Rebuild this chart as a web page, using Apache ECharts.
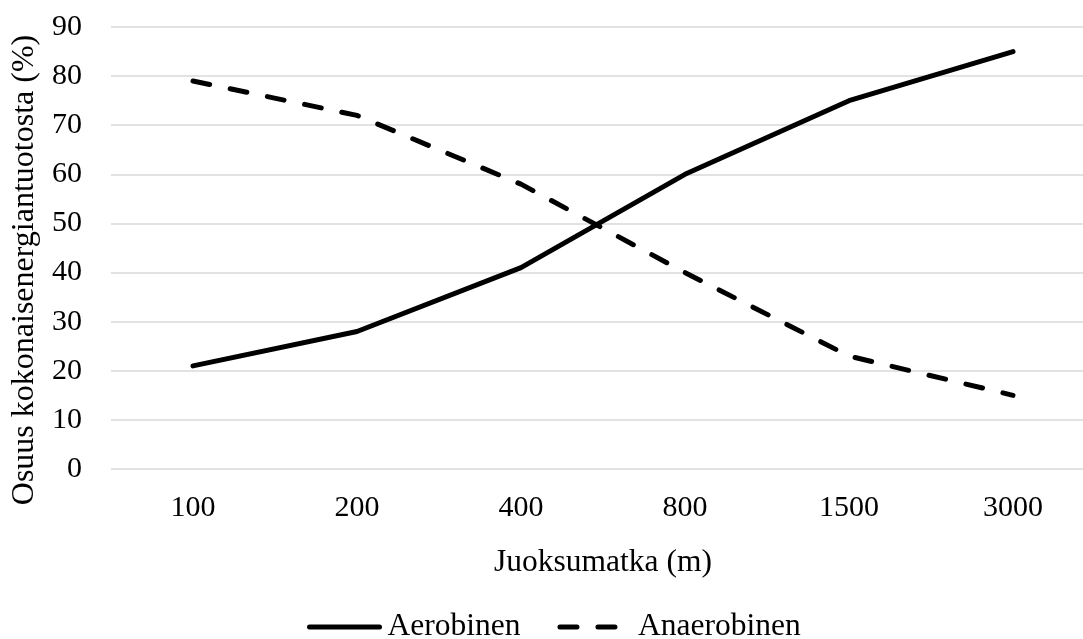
<!DOCTYPE html>
<html><head><meta charset="utf-8">
<script src="https://cdn.jsdelivr.net/npm/echarts@6/dist/echarts.min.js"></script>
<style>html,body{margin:0;padding:0;background:#fff}#c{width:1083px;height:639px}</style>
</head><body><div id="c"></div>
<script>
const categories = ['100','200','400','800','1500','3000'];
const aerobinen = [21, 28, 41, 60, 75, 85];
const anaerobinen = [79, 72, 58, 40, 23, 15];
const FONT = 'Liberation Serif';
const FS = 30;
const chart = echarts.init(document.getElementById('c'));
chart.setOption({
  animation: false,
  textStyle: {fontFamily: FONT, color: '#000'},
  grid: {left: 111, width: 984, top: 27, bottom: 170, outerBoundsMode: 'none', containLabel: false},
  legend: {
    bottom: -9, left: 302, itemWidth: 70, itemHeight: 14, itemGap: 37,
    textStyle: {fontFamily: FONT, fontSize: 31.5, color: '#000', padding: [0, 0, 0, 3]},
    itemStyle: {color: 'transparent', borderWidth: 0, opacity: 0},
    lineStyle: {width: 5},
    data: ['Aerobinen', 'Anaerobinen']
  },
  xAxis: {
    type: 'category', data: categories, boundaryGap: true,
    name: 'Juoksumatka (m)', nameLocation: 'middle', nameGap: 78,
    nameTextStyle: {fontFamily: FONT, fontSize: 31.5, color: '#000'},
    axisLine: {show: false}, axisTick: {show: false},
    axisLabel: {fontFamily: FONT, fontSize: FS, color: '#000', margin: 24}
  },
  yAxis: {
    type: 'value', min: 0, max: 90, interval: 10,
    name: 'Osuus kokonaisenergiantuotosta (%)', nameLocation: 'middle', nameGap: 70,
    nameTextStyle: {fontFamily: FONT, fontSize: 32, color: '#000', padding: [0, 44, 0, 0]},
    axisLine: {show: false}, axisTick: {show: false},
    axisLabel: {fontFamily: FONT, fontSize: FS, color: '#000', margin: 29},
    splitLine: {lineStyle: {color: '#d9d9d9', width: 1.5}}
  },
  series: [
    {name: 'Aerobinen', type: 'line', data: aerobinen, symbol: 'none',
     lineStyle: {color: '#000', width: 5, cap: 'round', join: 'round'}, itemStyle: {color: '#000'}},
    {name: 'Anaerobinen', type: 'line', data: anaerobinen, symbol: 'none',
     lineStyle: {color: '#000', width: 5, type: [17, 21], cap: 'round', join: 'round'}, itemStyle: {color: '#000'}}
  ]
});
</script></body></html>
